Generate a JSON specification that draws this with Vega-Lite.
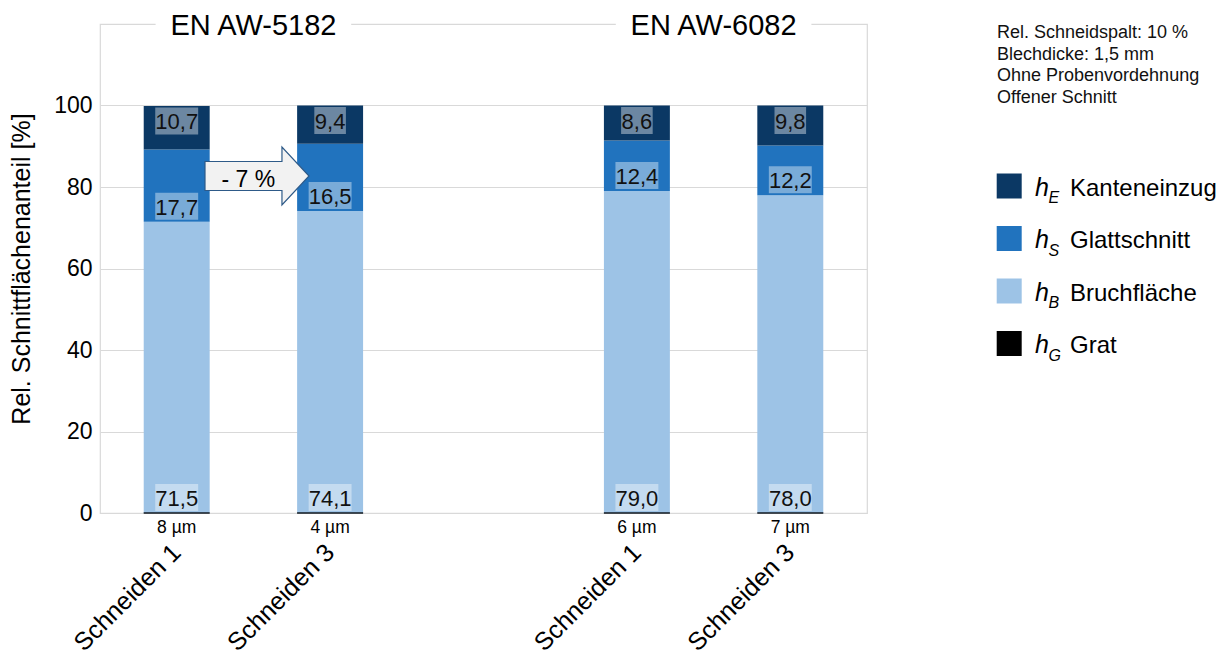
{
  "$schema": "https://vega.github.io/schema/vega-lite/v6.json",
  "width": 767,
  "height": 489,
  "autosize": {"type": "none"},
  "padding": {"left": 100, "top": 24, "right": 361, "bottom": 144},
  "background": "white",
  "config": {
    "font": "Liberation Sans",
    "view": {"stroke": "#d9d9d9", "strokeWidth": 1.2},
    "locale": {"number": {"decimal": ",", "thousands": ".", "grouping": [3], "currency": ["", " €"]}},
    "text": {"font": "Liberation Sans", "color": "#111111"}
  },
  "datasets": {
    "flaechen": [
      {"alloy": "EN AW-5182", "cut": "Schneiden 1", "slot": "5182-S1", "part": "Bruchfläche", "value": 71.5},
      {"alloy": "EN AW-5182", "cut": "Schneiden 1", "slot": "5182-S1", "part": "Glattschnitt", "value": 17.7},
      {"alloy": "EN AW-5182", "cut": "Schneiden 1", "slot": "5182-S1", "part": "Kanteneinzug", "value": 10.7},
      {"alloy": "EN AW-5182", "cut": "Schneiden 3", "slot": "5182-S3", "part": "Bruchfläche", "value": 74.1},
      {"alloy": "EN AW-5182", "cut": "Schneiden 3", "slot": "5182-S3", "part": "Glattschnitt", "value": 16.5},
      {"alloy": "EN AW-5182", "cut": "Schneiden 3", "slot": "5182-S3", "part": "Kanteneinzug", "value": 9.4},
      {"alloy": "EN AW-6082", "cut": "Schneiden 1", "slot": "6082-S1", "part": "Bruchfläche", "value": 79.0},
      {"alloy": "EN AW-6082", "cut": "Schneiden 1", "slot": "6082-S1", "part": "Glattschnitt", "value": 12.4},
      {"alloy": "EN AW-6082", "cut": "Schneiden 1", "slot": "6082-S1", "part": "Kanteneinzug", "value": 8.6},
      {"alloy": "EN AW-6082", "cut": "Schneiden 3", "slot": "6082-S3", "part": "Bruchfläche", "value": 78.0},
      {"alloy": "EN AW-6082", "cut": "Schneiden 3", "slot": "6082-S3", "part": "Glattschnitt", "value": 12.2},
      {"alloy": "EN AW-6082", "cut": "Schneiden 3", "slot": "6082-S3", "part": "Kanteneinzug", "value": 9.8}
    ],
    "grat": [
      {"slot": "5182-S1", "um": 8},
      {"slot": "5182-S3", "um": 4},
      {"slot": "6082-S1", "um": 6},
      {"slot": "6082-S3", "um": 7}
    ],
    "legende": [
      {"kurz": "E", "teil": "Kanteneinzug"},
      {"kurz": "S", "teil": "Glattschnitt"},
      {"kurz": "B", "teil": "Bruchfläche"},
      {"kurz": "G", "teil": "Grat"}
    ],
    "hinweise": [
      {"zeile": 1, "text": "Rel. Schneidspalt: 10 %"},
      {"zeile": 2, "text": "Blechdicke: 1,5 mm"},
      {"zeile": 3, "text": "Ohne Probenvordehnung"},
      {"zeile": 4, "text": "Offener Schnitt"}
    ]
  },
  "layer": [
    {
      "encoding": {
        "x": {
          "field": "slot",
          "type": "nominal",
          "title": null,
          "scale": {"domain": ["5182-S1", "5182-S3", "-", "6082-S1", "6082-S3"], "paddingInner": 0, "paddingOuter": 0},
          "axis": {
            "title": null,
            "labelExpr": "datum.value == '-' ? '' : 'Schneiden ' + slice(datum.value, -1)",
            "labelAngle": -45,
            "labelAlign": "right",
            "labelBaseline": "middle",
            "labelFontSize": 25,
            "labelColor": "#000000",
            "labelPadding": 35,
            "labelOffset": 0,
            "labelOverlap": false,
            "labelLimit": 300,
            "ticks": false,
            "tickSize": 0,
            "domain": false,
            "grid": false
          }
        }
      },
      "layer": [
        {
          "data": {"name": "flaechen"},
          "transform": [
            {"stack": "value", "groupby": ["slot"], "sort": [{"field": "part", "order": "ascending"}], "as": ["y0", "y1"]}
          ],
          "layer": [
            {
              "mark": {"type": "bar", "width": {"band": 0.43}},
              "encoding": {
                "y": {
                  "field": "y0",
                  "type": "quantitative",
                  "scale": {"domain": [0, 120], "nice": false},
                  "axis": {
                    "values": [0, 20, 40, 60, 80, 100],
                    "title": "Rel. Schnittflächenanteil [%]",
                    "titleFontSize": 25,
                    "titleFontWeight": "normal",
                    "titleColor": "#000000",
                    "titlePadding": 19,
                    "labelFontSize": 23,
                    "labelColor": "#000000",
                    "labelPadding": 8,
                    "ticks": false,
                    "domain": false,
                    "grid": true,
                    "gridColor": "#d9d9d9",
                    "gridWidth": 1.2
                  }
                },
                "y2": {"field": "y1"},
                "color": {
                  "field": "part",
                  "type": "nominal",
                  "scale": {
                    "domain": ["Kanteneinzug", "Glattschnitt", "Bruchfläche", "Grat"],
                    "range": ["#0b3864", "#2173be", "#9dc3e6", "#000000"]
                  },
                  "legend": null
                }
              }
            },
            {
              "transform": [{"filter": "datum.part == 'Kanteneinzug'"}],
              "encoding": {"y": {"field": "y1", "type": "quantitative"}},
              "layer": [
                {
                  "mark": {"type": "point", "filled": true, "fill": "white", "fillOpacity": 0.4, "opacity": 1, "strokeWidth": 0, "size": 729, "yOffset": 15},
                  "encoding": {
                    "shape": {
                      "condition": {"test": "datum.value < 10", "value": "M-1.17,-1H1.17V1H-1.17Z"},
                      "value": "M-1.59,-1H1.59V1H-1.59Z"
                    }
                  }
                },
                {
                  "mark": {"type": "text", "fontSize": 22, "baseline": "middle", "dy": 16},
                  "encoding": {"text": {"field": "value", "type": "quantitative", "format": ".1f"}}
                }
              ]
            },
            {
              "transform": [{"filter": "datum.part != 'Kanteneinzug'"}],
              "encoding": {"y": {"field": "y0", "type": "quantitative"}},
              "layer": [
                {
                  "mark": {"type": "point", "filled": true, "fill": "white", "fillOpacity": 0.4, "opacity": 1, "strokeWidth": 0, "size": 729, "yOffset": -15.5},
                  "encoding": {
                    "shape": {
                      "condition": {"test": "datum.value < 10", "value": "M-1.17,-1H1.17V1H-1.17Z"},
                      "value": "M-1.59,-1H1.59V1H-1.59Z"
                    }
                  }
                },
                {
                  "mark": {"type": "text", "fontSize": 22, "baseline": "middle", "dy": -14},
                  "encoding": {"text": {"field": "value", "type": "quantitative", "format": ".1f"}}
                }
              ]
            },
            {
              "transform": [{"filter": "datum.part == 'Bruchfläche' && datum.cut == 'Schneiden 1'"}],
              "encoding": {
                "x": {"field": "slot", "type": "nominal", "title": null, "bandPosition": 1},
                "y": {"datum": 120}
              },
              "layer": [
                {
                  "mark": {"type": "point", "shape": "M-16.3,-1H16.3V1H-16.3Z", "size": 144, "filled": true, "fill": "white", "opacity": 1, "strokeWidth": 0}
                },
                {
                  "mark": {"type": "text", "fontSize": 29, "baseline": "alphabetic", "dy": 11, "color": "#000000"},
                  "encoding": {"text": {"field": "alloy"}}
                }
              ]
            },
            {
              "transform": [{"filter": "datum.part == 'Glattschnitt' && datum.slot == '5182-S1'"}],
              "encoding": {
                "x": {"field": "slot", "type": "nominal", "title": null, "bandPosition": 1},
                "y": {"datum": 82.7}
              },
              "layer": [
                {
                  "mark": {
                    "type": "point",
                    "shape": "M-1,-0.279H0.48V-0.558L1,0L0.48,0.558V0.279H-1Z",
                    "size": 10816,
                    "filled": true,
                    "fill": "#f2f2f2",
                    "stroke": "#2e5a88",
                    "strokeWidth": 1.2,
                    "opacity": 1,
                    "xOffset": 3.6
                  }
                },
                {
                  "mark": {"type": "text", "text": "- 7 %", "fontSize": 23, "baseline": "middle", "dx": -5, "dy": 4, "color": "#000000"}
                }
              ]
            }
          ]
        },
        {
          "data": {"name": "grat"},
          "transform": [{"calculate": "datum.um + ' µm'", "as": "beschriftung"}],
          "encoding": {"y": {"datum": 0}},
          "layer": [
            {"mark": {"type": "tick", "size": 66, "thickness": 1.6, "color": "#101820", "opacity": 1}},
            {
              "mark": {"type": "text", "fontSize": 17.5, "baseline": "alphabetic", "dy": 20, "color": "#000000"},
              "encoding": {"text": {"field": "beschriftung"}}
            }
          ]
        }
      ]
    },
    {
      "data": {"name": "legende"},
      "encoding": {
        "y": {
          "field": "kurz",
          "type": "nominal",
          "scale": {"type": "point", "padding": 0, "domain": ["E", "S", "B", "G"], "range": [162, 319.5]},
          "axis": null
        }
      },
      "layer": [
        {
          "mark": {"type": "point", "shape": "square", "filled": true, "size": 625, "opacity": 1, "strokeWidth": 0, "xOffset": 525.7},
          "encoding": {
            "color": {
              "field": "teil",
              "type": "nominal",
              "scale": {
                "domain": ["Kanteneinzug", "Glattschnitt", "Bruchfläche", "Grat"],
                "range": ["#0b3864", "#2173be", "#9dc3e6", "#000000"]
              },
              "legend": null
            }
          }
        },
        {"mark": {"type": "text", "text": "h", "fontSize": 25, "fontStyle": "italic", "align": "left", "baseline": "alphabetic", "dx": 551.5, "dy": 9.5, "color": "#000000"}},
        {
          "mark": {"type": "text", "fontSize": 16, "fontStyle": "italic", "align": "left", "baseline": "alphabetic", "dx": 565, "dy": 17, "color": "#000000"},
          "encoding": {"text": {"field": "kurz"}}
        },
        {
          "mark": {"type": "text", "fontSize": 24, "align": "left", "baseline": "alphabetic", "dx": 586.5, "dy": 9.5, "color": "#000000"},
          "encoding": {"text": {"field": "teil"}}
        }
      ]
    },
    {
      "data": {"name": "hinweise"},
      "mark": {"type": "text", "fontSize": 18, "align": "left", "baseline": "alphabetic", "dx": 513.5, "color": "#111111"},
      "encoding": {
        "y": {"field": "zeile", "type": "ordinal", "scale": {"type": "point", "padding": 0, "range": [14, 79]}, "axis": null},
        "text": {"field": "text"}
      }
    }
  ],
  "resolve": {"scale": {"y": "independent"}, "axis": {"y": "independent"}}
}
